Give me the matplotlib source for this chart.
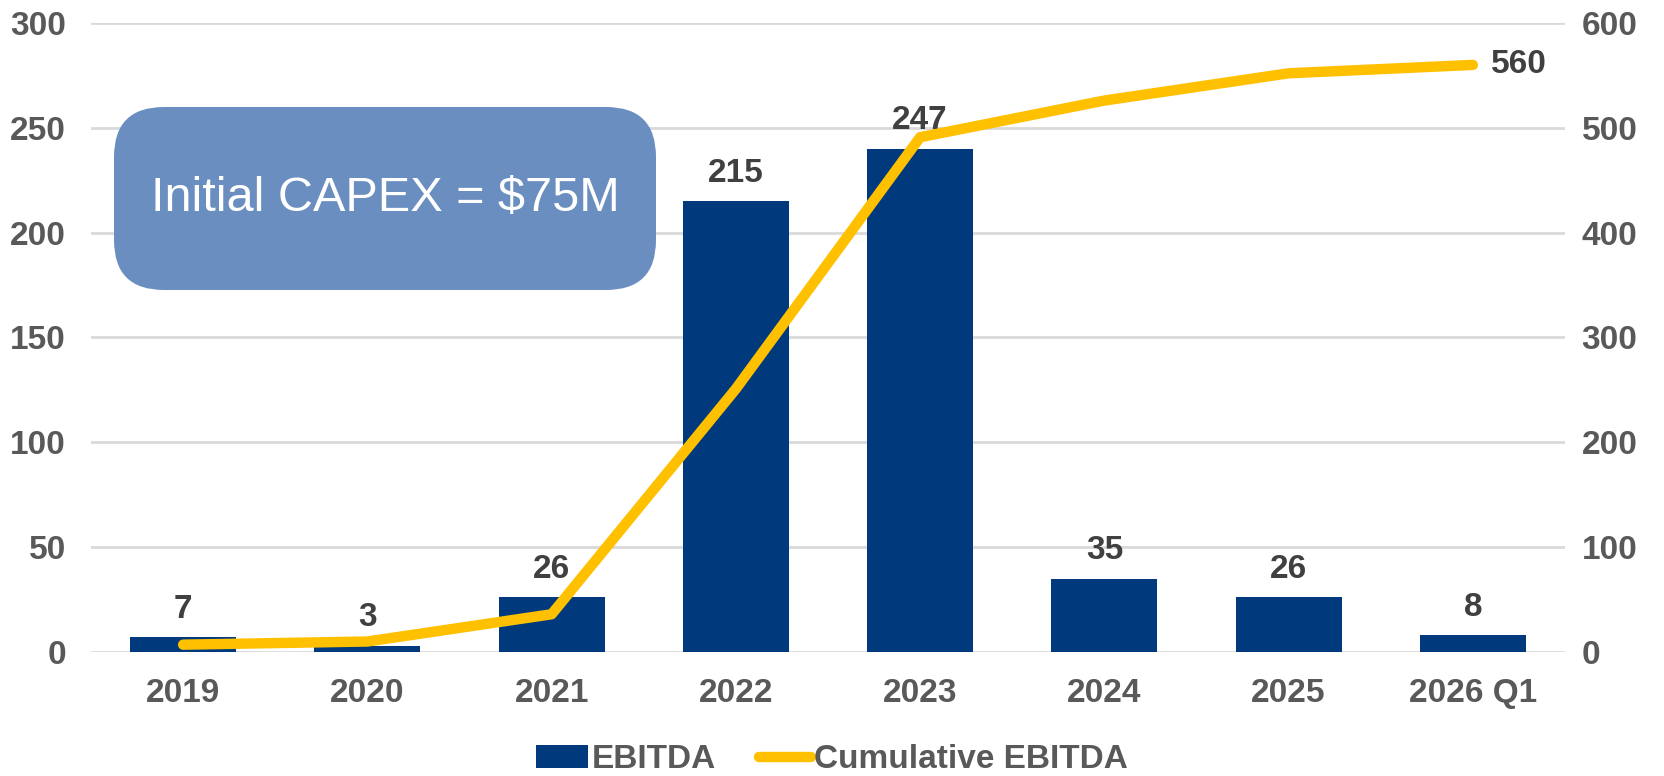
import matplotlib
matplotlib.use("Agg")
import matplotlib.pyplot as plt
from matplotlib.patches import FancyBboxPatch, Patch
from matplotlib.lines import Line2D

categories = ["2019", "2020", "2021", "2022", "2023", "2024", "2025", "2026 Q1"]
ebitda = [7, 3, 26, 215, 240, 35, 26, 8]
ebitda_labels = ["7", "3", "26", "215", "247", "35", "26", "8"]
cumulative = [7, 10, 36, 251, 491, 526, 552, 560]
cumulative_end_label = "560"
left_ticks = [0, 50, 100, 150, 200, 250, 300]
right_ticks = [0, 100, 200, 300, 400, 500, 600]

plt.rcParams["font.family"] = ["Liberation Sans", "DejaVu Sans"]

BAR = "#003A7D"
LINE = "#FFC000"
TICK = "#595959"
LBL = "#404040"
FS = 24

fig = plt.figure(figsize=(16.64, 7.76), dpi=100)
ax = fig.add_axes([0.0547, 0.1598, 0.8858, 0.8106])
ax2 = ax.twinx()

x = list(range(len(categories)))
ax.bar(x, ebitda, width=0.575, color=BAR, zorder=2, label="EBITDA")
ax.set_ylim(0, 300)
ax.set_xlim(-0.5, len(categories) - 0.5)
ax.set_yticks(left_ticks)
ax.set_xticks(x)
ax.set_xticklabels(categories)
ax.grid(axis="y", color="#D9D9D9", linewidth=2, zorder=0)
ax.set_axisbelow(True)
for s in ax.spines.values():
    s.set_visible(False)
for s in ax2.spines.values():
    s.set_visible(False)
ax.tick_params(axis="both", length=0, labelsize=FS, labelcolor=TICK)
ax.tick_params(axis="x", pad=19)
ax.tick_params(axis="y", pad=18)
for t in ax.get_xticklabels() + ax.get_yticklabels():
    t.set_fontweight("bold")

for xi, v, lab in zip(x, ebitda, ebitda_labels):
    ax.annotate(lab, (xi, v), xytext=(0, 9), textcoords="offset points",
                ha="center", va="bottom", fontsize=FS, fontweight="bold", color=LBL)

ax2.plot(x, cumulative, color=LINE, linewidth=7.5, solid_capstyle="round",
         solid_joinstyle="round", zorder=3)
ax2.set_ylim(0, 600)
ax2.set_yticks(right_ticks)
ax2.tick_params(axis="y", length=0, labelsize=FS, labelcolor=TICK, pad=12)
for t in ax2.get_yticklabels():
    t.set_fontweight("bold")
ax2.annotate(cumulative_end_label, (x[-1], cumulative[-1]), xytext=(13, 0),
             textcoords="offset points", ha="left", va="center",
             fontsize=FS, fontweight="bold", color=LBL)

# rounded text box (figure pixel coordinates)
W, H = 1664, 776
bx0, by0, bx1, by1 = 114, 107, 656, 290
box = FancyBboxPatch((bx0 / W, 1 - by1 / H), (bx1 - bx0) / W, (by1 - by0) / H,
                     boxstyle="round,pad=0,rounding_size=0.03",
                     transform=fig.transFigure, facecolor="#6A8EC0",
                     edgecolor="none", zorder=5, mutation_aspect=W / H)
fig.patches.append(box)
fig.text((bx0 + bx1) / 2 / W, 1 - (by0 + by1) / 2 / H, "Initial CAPEX = $75M",
         ha="center", va="center", color="white", fontsize=35, zorder=6)

handles = [Patch(facecolor=BAR, edgecolor="none"),
           Line2D([0], [0], color=LINE, linewidth=7.5, solid_capstyle="round")]
leg = fig.legend(handles, ["EBITDA", "Cumulative EBITDA"], loc="center",
                 bbox_to_anchor=(0.5, 0.021), ncol=2, frameon=False,
                 fontsize=FS, handlelength=1.55, handleheight=0.7,
                 handletextpad=0.1, columnspacing=1.3, borderpad=0.2)
for t in leg.get_texts():
    t.set_color(TICK)
    t.set_fontweight("bold")

fig.savefig("out.png", dpi=100)
